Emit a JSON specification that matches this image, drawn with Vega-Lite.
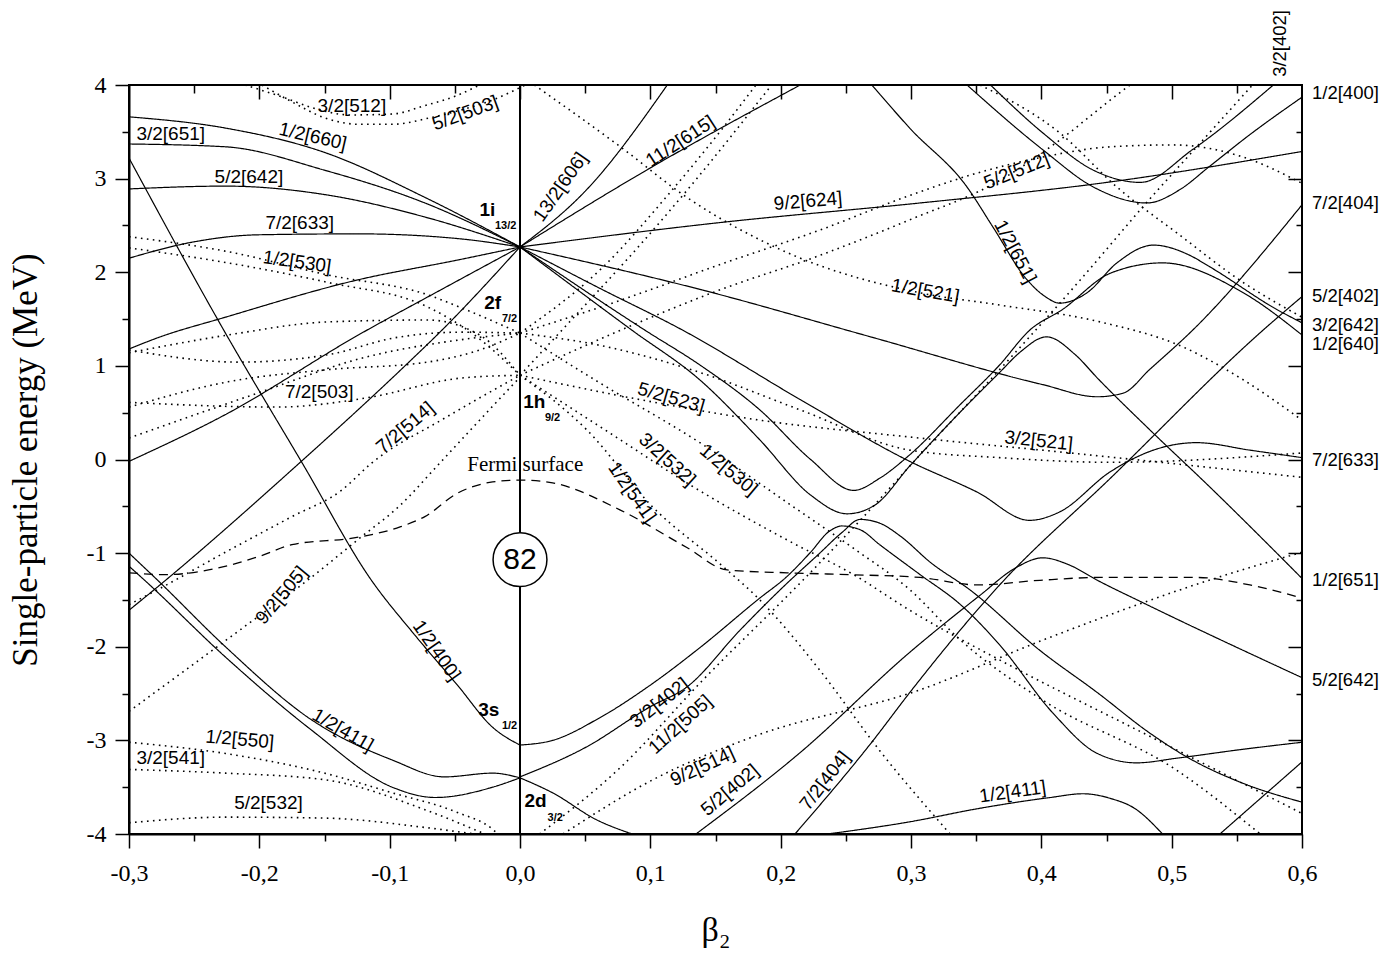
{
  "$schema": "https://vega.github.io/schema/vega-lite/v6.json",
  "width": 1173,
  "height": 749,
  "autosize": {"type": "none"},
  "padding": {"left": 129, "top": 85, "right": 84, "bottom": 119},
  "background": "white",
  "config": {
    "view": {"stroke": "black", "strokeWidth": 2},
    "axis": {"grid": false, "domainColor": "black", "tickColor": "black", "labelColor": "black", "titleColor": "black", "labelFlush": false}
  },
  "resolve": {"axis": {"x": "independent", "y": "independent"}},
  "datasets": {
    "levels": [
      {"curve":"o660","parity":"+","beta":-0.3,"energy":3.66},{"curve":"o660","parity":"+","beta":-0.226,"energy":3.54},{"curve":"o660","parity":"+","beta":-0.15,"energy":3.28},{"curve":"o660","parity":"+","beta":-0.073,"energy":2.8},{"curve":"o660","parity":"+","beta":0,"energy":2.27},
      {"curve":"o651","parity":"+","beta":-0.3,"energy":3.37},{"curve":"o651","parity":"+","beta":-0.226,"energy":3.34},{"curve":"o651","parity":"+","beta":-0.15,"energy":3.09},{"curve":"o651","parity":"+","beta":-0.073,"energy":2.74},{"curve":"o651","parity":"+","beta":0,"energy":2.27},
      {"curve":"o642","parity":"+","beta":-0.3,"energy":2.89},{"curve":"o642","parity":"+","beta":-0.226,"energy":2.92},{"curve":"o642","parity":"+","beta":-0.15,"energy":2.83},{"curve":"o642","parity":"+","beta":-0.073,"energy":2.59},{"curve":"o642","parity":"+","beta":0,"energy":2.27},
      {"curve":"o633","parity":"+","beta":-0.3,"energy":2.15},{"curve":"o633","parity":"+","beta":-0.252,"energy":2.32},{"curve":"o633","parity":"+","beta":-0.201,"energy":2.4},{"curve":"o633","parity":"+","beta":-0.124,"energy":2.41},{"curve":"o633","parity":"+","beta":-0.048,"energy":2.36},{"curve":"o633","parity":"+","beta":0,"energy":2.27},
      {"curve":"o624","parity":"+","beta":-0.3,"energy":1.18},{"curve":"o624","parity":"+","beta":-0.278,"energy":1.3},{"curve":"o624","parity":"+","beta":-0.226,"energy":1.52},{"curve":"o624","parity":"+","beta":-0.124,"energy":1.92},{"curve":"o624","parity":"+","beta":-0.048,"energy":2.13},{"curve":"o624","parity":"+","beta":0,"energy":2.27},
      {"curve":"o615","parity":"+","beta":-0.3,"energy":-0.02},{"curve":"o615","parity":"+","beta":-0.226,"energy":0.48},{"curve":"o615","parity":"+","beta":-0.124,"energy":1.33},{"curve":"o615","parity":"+","beta":-0.061,"energy":1.81},{"curve":"o615","parity":"+","beta":0,"energy":2.27},
      {"curve":"o606","parity":"+","beta":-0.3,"energy":-1.61},{"curve":"o606","parity":"+","beta":-0.278,"energy":-1.36},{"curve":"o606","parity":"+","beta":-0.175,"energy":-0.11},{"curve":"o606","parity":"+","beta":-0.086,"energy":1.03},{"curve":"o606","parity":"+","beta":-0.06,"energy":1.38},{"curve":"o606","parity":"+","beta":0,"energy":2.27},
      {"curve":"o400","parity":"+","beta":-0.3,"energy":3.22},{"curve":"o400","parity":"+","beta":-0.226,"energy":1.35},{"curve":"o400","parity":"+","beta":-0.167,"energy":-0.04},{"curve":"o400","parity":"+","beta":-0.114,"energy":-1.29},{"curve":"o400","parity":"+","beta":-0.081,"energy":-1.87},{"curve":"o400","parity":"+","beta":-0.048,"energy":-2.41},{"curve":"o400","parity":"+","beta":-0.021,"energy":-2.86},{"curve":"o400","parity":"+","beta":0,"energy":-3.05},
      {"curve":"o411","parity":"+","beta":-0.3,"energy":-1.0},{"curve":"o411","parity":"+","beta":-0.278,"energy":-1.29},{"curve":"o411","parity":"+","beta":-0.226,"energy":-2.0},{"curve":"o411","parity":"+","beta":-0.16,"energy":-2.78},{"curve":"o411","parity":"+","beta":-0.098,"energy":-3.21},{"curve":"o411","parity":"+","beta":-0.058,"energy":-3.39},{"curve":"o411","parity":"+","beta":-0.021,"energy":-3.35},{"curve":"o411","parity":"+","beta":0,"energy":-3.4},
      {"curve":"o402","parity":"+","beta":-0.3,"energy":-1.14},{"curve":"o402","parity":"+","beta":-0.288,"energy":-1.29},{"curve":"o402","parity":"+","beta":-0.226,"energy":-2.11},{"curve":"o402","parity":"+","beta":-0.16,"energy":-2.89},{"curve":"o402","parity":"+","beta":-0.098,"energy":-3.5},{"curve":"o402","parity":"+","beta":-0.065,"energy":-3.61},{"curve":"o402","parity":"+","beta":-0.021,"energy":-3.5},{"curve":"o402","parity":"+","beta":0,"energy":-3.4},
      {"curve":"p606","parity":"+","beta":0,"energy":2.27},{"curve":"p606","parity":"+","beta":0.051,"energy":2.88},{"curve":"p606","parity":"+","beta":0.113,"energy":4.0},
      {"curve":"p615","parity":"+","beta":0,"energy":2.27},{"curve":"p615","parity":"+","beta":0.097,"energy":3.09},{"curve":"p615","parity":"+","beta":0.215,"energy":4.0},
      {"curve":"p624","parity":"+","beta":0,"energy":2.27},{"curve":"p624","parity":"+","beta":0.153,"energy":2.53},{"curve":"p624","parity":"+","beta":0.307,"energy":2.74},{"curve":"p624","parity":"+","beta":0.445,"energy":2.95},{"curve":"p624","parity":"+","beta":0.6,"energy":3.29},
      {"curve":"p633","parity":"+","beta":0,"energy":2.27},{"curve":"p633","parity":"+","beta":0.14,"energy":1.81},{"curve":"p633","parity":"+","beta":0.269,"energy":1.31},{"curve":"p633","parity":"+","beta":0.401,"energy":0.8},{"curve":"p633","parity":"+","beta":0.443,"energy":0.67},{"curve":"p633","parity":"+","beta":0.463,"energy":0.71},{"curve":"p633","parity":"+","beta":0.483,"energy":0.96},{"curve":"p633","parity":"+","beta":0.516,"energy":1.38},{"curve":"p633","parity":"+","beta":0.6,"energy":2.72},
      {"curve":"p642","parity":"+","beta":0,"energy":2.27},{"curve":"p642","parity":"+","beta":0.061,"energy":1.83},{"curve":"p642","parity":"+","beta":0.125,"energy":1.38},{"curve":"p642","parity":"+","beta":0.215,"energy":0.64},{"curve":"p642","parity":"+","beta":0.299,"energy":-0.02},{"curve":"p642","parity":"+","beta":0.351,"energy":-0.35},{"curve":"p642","parity":"+","beta":0.391,"energy":-0.65},{"curve":"p642","parity":"+","beta":0.414,"energy":-0.56},{"curve":"p642","parity":"+","beta":0.453,"energy":-0.13},{"curve":"p642","parity":"+","beta":0.493,"energy":0.13},{"curve":"p642","parity":"+","beta":0.519,"energy":0.18},{"curve":"p642","parity":"+","beta":0.56,"energy":0.1},{"curve":"p642","parity":"+","beta":0.6,"energy":0.02},
      {"curve":"p651","parity":"+","beta":0,"energy":2.27},{"curve":"p651","parity":"+","beta":0.096,"energy":1.38},{"curve":"p651","parity":"+","beta":0.138,"energy":1.01},{"curve":"p651","parity":"+","beta":0.184,"energy":0.53},{"curve":"p651","parity":"+","beta":0.223,"energy":0.0},{"curve":"p651","parity":"+","beta":0.256,"energy":-0.33},{"curve":"p651","parity":"+","beta":0.276,"energy":-0.2},{"curve":"p651","parity":"+","beta":0.299,"energy":0.05},{"curve":"p651","parity":"+","beta":0.338,"energy":0.59},{"curve":"p651","parity":"+","beta":0.368,"energy":1.01},{"curve":"p651","parity":"+","beta":0.391,"energy":1.38},{"curve":"p651","parity":"+","beta":0.416,"energy":1.6},{"curve":"p651","parity":"+","beta":0.453,"energy":1.99},{"curve":"p651","parity":"+","beta":0.493,"energy":2.1},{"curve":"p651","parity":"+","beta":0.555,"energy":1.78},{"curve":"p651","parity":"+","beta":0.6,"energy":1.33},
      {"curve":"p660","parity":"+","beta":0,"energy":2.27},{"curve":"p660","parity":"+","beta":0.086,"energy":1.38},{"curve":"p660","parity":"+","beta":0.138,"energy":0.85},{"curve":"p660","parity":"+","beta":0.184,"energy":0.21},{"curve":"p660","parity":"+","beta":0.223,"energy":-0.38},{"curve":"p660","parity":"+","beta":0.251,"energy":-0.58},{"curve":"p660","parity":"+","beta":0.272,"energy":-0.49},{"curve":"p660","parity":"+","beta":0.299,"energy":-0.07},{"curve":"p660","parity":"+","beta":0.338,"energy":0.51},{"curve":"p660","parity":"+","beta":0.368,"energy":0.93},{"curve":"p660","parity":"+","beta":0.384,"energy":1.15},{"curve":"p660","parity":"+","beta":0.404,"energy":1.31},{"curve":"p660","parity":"+","beta":0.426,"energy":1.12},{"curve":"p660","parity":"+","beta":0.443,"energy":0.87},{"curve":"p660","parity":"+","beta":0.483,"energy":0.32},{"curve":"p660","parity":"+","beta":0.529,"energy":-0.29},{"curve":"p660","parity":"+","beta":0.6,"energy":-1.27},
      {"curve":"t651","parity":"+","beta":0.27,"energy":4.0},{"curve":"t651","parity":"+","beta":0.299,"energy":3.54},{"curve":"t651","parity":"+","beta":0.343,"energy":2.91},{"curve":"t651","parity":"+","beta":0.363,"energy":2.48},{"curve":"t651","parity":"+","beta":0.389,"energy":1.92},{"curve":"t651","parity":"+","beta":0.403,"energy":1.74},{"curve":"t651","parity":"+","beta":0.414,"energy":1.67},{"curve":"t651","parity":"+","beta":0.435,"energy":1.78},{"curve":"t651","parity":"+","beta":0.458,"energy":2.1},{"curve":"t651","parity":"+","beta":0.486,"energy":2.29},{"curve":"t651","parity":"+","beta":0.514,"energy":2.18},{"curve":"t651","parity":"+","beta":0.529,"energy":2.06},{"curve":"t651","parity":"+","beta":0.581,"energy":1.6},{"curve":"t651","parity":"+","beta":0.6,"energy":1.46},
      {"curve":"t400","parity":"+","beta":0.343,"energy":4.0},{"curve":"t400","parity":"+","beta":0.401,"energy":3.31},{"curve":"t400","parity":"+","beta":0.44,"energy":2.91},{"curve":"t400","parity":"+","beta":0.481,"energy":2.74},{"curve":"t400","parity":"+","beta":0.506,"energy":2.88},{"curve":"t400","parity":"+","beta":0.529,"energy":3.13},{"curve":"t400","parity":"+","beta":0.56,"energy":3.47},{"curve":"t400","parity":"+","beta":0.6,"energy":3.87},
      {"curve":"t402","parity":"+","beta":0.361,"energy":4.0},{"curve":"t402","parity":"+","beta":0.401,"energy":3.49},{"curve":"t402","parity":"+","beta":0.44,"energy":3.09},{"curve":"t402","parity":"+","beta":0.476,"energy":2.96},{"curve":"t402","parity":"+","beta":0.516,"energy":3.31},{"curve":"t402","parity":"+","beta":0.578,"energy":4.0},
      {"curve":"s404","parity":"+","beta":0.211,"energy":-4.0},{"curve":"s404","parity":"+","beta":0.271,"energy":-3.0},{"curve":"s404","parity":"+","beta":0.299,"energy":-2.49},{"curve":"s404","parity":"+","beta":0.368,"energy":-1.34},{"curve":"s404","parity":"+","beta":0.453,"energy":-0.2},{"curve":"s404","parity":"+","beta":0.57,"energy":1.38},{"curve":"s404","parity":"+","beta":0.6,"energy":1.74},
      {"curve":"c402","parity":"+","beta":0.135,"energy":-4.0},{"curve":"c402","parity":"+","beta":0.215,"energy":-3.13},{"curve":"c402","parity":"+","beta":0.299,"energy":-2.06},{"curve":"c402","parity":"+","beta":0.353,"energy":-1.45},{"curve":"c402","parity":"+","beta":0.38,"energy":-1.16},{"curve":"c402","parity":"+","beta":0.401,"energy":-1.05},{"curve":"c402","parity":"+","beta":0.422,"energy":-1.13},{"curve":"c402","parity":"+","beta":0.443,"energy":-1.29},{"curve":"c402","parity":"+","beta":0.478,"energy":-1.53},{"curve":"c402","parity":"+","beta":0.6,"energy":-2.33},
      {"curve":"q400","parity":"+","beta":0,"energy":-3.05},{"curve":"q400","parity":"+","beta":0.025,"energy":-3.0},{"curve":"q400","parity":"+","beta":0.061,"energy":-2.76},{"curve":"q400","parity":"+","beta":0.102,"energy":-2.39},{"curve":"q400","parity":"+","beta":0.138,"energy":-2.01},{"curve":"q400","parity":"+","beta":0.184,"energy":-1.48},{"curve":"q400","parity":"+","beta":0.204,"energy":-1.26},{"curve":"q400","parity":"+","beta":0.223,"energy":-0.99},{"curve":"q400","parity":"+","beta":0.237,"energy":-0.77},{"curve":"q400","parity":"+","beta":0.247,"energy":-0.71},{"curve":"q400","parity":"+","beta":0.261,"energy":-0.75},{"curve":"q400","parity":"+","beta":0.276,"energy":-0.91},{"curve":"q400","parity":"+","beta":0.307,"energy":-1.23},{"curve":"q400","parity":"+","beta":0.338,"energy":-1.55},{"curve":"q400","parity":"+","beta":0.368,"energy":-1.98},{"curve":"q400","parity":"+","beta":0.409,"energy":-2.71},{"curve":"q400","parity":"+","beta":0.443,"energy":-3.14},{"curve":"q400","parity":"+","beta":0.473,"energy":-3.24},{"curve":"q400","parity":"+","beta":0.504,"energy":-3.19},{"curve":"q400","parity":"+","beta":0.552,"energy":-3.1},{"curve":"q400","parity":"+","beta":0.6,"energy":-3.02},
      {"curve":"q402","parity":"+","beta":0,"energy":-3.39},{"curve":"q402","parity":"+","beta":0.051,"energy":-3.07},{"curve":"q402","parity":"+","beta":0.1,"energy":-2.64},{"curve":"q402","parity":"+","beta":0.128,"energy":-2.43},{"curve":"q402","parity":"+","beta":0.169,"energy":-1.82},{"curve":"q402","parity":"+","beta":0.202,"energy":-1.36},{"curve":"q402","parity":"+","beta":0.23,"energy":-1.0},{"curve":"q402","parity":"+","beta":0.247,"energy":-0.78},{"curve":"q402","parity":"+","beta":0.261,"energy":-0.64},{"curve":"q402","parity":"+","beta":0.276,"energy":-0.68},{"curve":"q402","parity":"+","beta":0.292,"energy":-0.82},{"curve":"q402","parity":"+","beta":0.315,"energy":-1.1},{"curve":"q402","parity":"+","beta":0.345,"energy":-1.39},{"curve":"q402","parity":"+","beta":0.399,"energy":-2.04},{"curve":"q402","parity":"+","beta":0.443,"energy":-2.49},{"curve":"q402","parity":"+","beta":0.483,"energy":-2.92},{"curve":"q402","parity":"+","beta":0.512,"energy":-3.18},{"curve":"q402","parity":"+","beta":0.555,"energy":-3.46},{"curve":"q402","parity":"+","beta":0.6,"energy":-3.66},
      {"curve":"d411","parity":"+","beta":0,"energy":-3.4},{"curve":"d411","parity":"+","beta":0.025,"energy":-3.56},{"curve":"d411","parity":"+","beta":0.059,"energy":-3.85},{"curve":"d411","parity":"+","beta":0.086,"energy":-4.0},
      {"curve":"b411","parity":"+","beta":0.236,"energy":-4.0},{"curve":"b411","parity":"+","beta":0.299,"energy":-3.87},{"curve":"b411","parity":"+","beta":0.351,"energy":-3.73},{"curve":"b411","parity":"+","beta":0.407,"energy":-3.61},{"curve":"b411","parity":"+","beta":0.432,"energy":-3.57},{"curve":"b411","parity":"+","beta":0.453,"energy":-3.62},{"curve":"b411","parity":"+","beta":0.472,"energy":-3.73},{"curve":"b411","parity":"+","beta":0.493,"energy":-4.0},
      {"curve":"g420","parity":"+","beta":0.537,"energy":-4.0},{"curve":"g420","parity":"+","beta":0.6,"energy":-3.23},
      {"curve":"n512","parity":"-","beta":-0.211,"energy":4.0},{"curve":"n512","parity":"-","beta":-0.18,"energy":3.86},{"curve":"n512","parity":"-","beta":-0.16,"energy":3.76},{"curve":"n512","parity":"-","beta":-0.13,"energy":3.68},{"curve":"n512","parity":"-","beta":-0.098,"energy":3.69},{"curve":"n512","parity":"-","beta":-0.073,"energy":3.78},{"curve":"n512","parity":"-","beta":-0.048,"energy":3.89},{"curve":"n512","parity":"-","beta":-0.031,"energy":4.0},
      {"curve":"n503","parity":"-","beta":-0.198,"energy":4.0},{"curve":"n503","parity":"-","beta":-0.175,"energy":3.82},{"curve":"n503","parity":"-","beta":-0.15,"energy":3.65},{"curve":"n503","parity":"-","beta":-0.123,"energy":3.58},{"curve":"n503","parity":"-","beta":-0.098,"energy":3.58},{"curve":"n503","parity":"-","beta":-0.069,"energy":3.65},{"curve":"n503","parity":"-","beta":-0.046,"energy":3.73},{"curve":"n503","parity":"-","beta":-0.021,"energy":3.84},{"curve":"n503","parity":"-","beta":0.004,"energy":4.0},
      {"curve":"od1","parity":"-","beta":-0.3,"energy":2.38},{"curve":"od1","parity":"-","beta":-0.224,"energy":2.22},{"curve":"od1","parity":"-","beta":-0.147,"energy":1.97},{"curve":"od1","parity":"-","beta":-0.071,"energy":1.76},{"curve":"od1","parity":"-","beta":-0.045,"energy":1.62},{"curve":"od1","parity":"-","beta":0,"energy":1.35},
      {"curve":"od2","parity":"-","beta":-0.3,"energy":2.26},{"curve":"od2","parity":"-","beta":-0.224,"energy":2.1},{"curve":"od2","parity":"-","beta":-0.147,"energy":1.89},{"curve":"od2","parity":"-","beta":-0.071,"energy":1.63},{"curve":"od2","parity":"-","beta":-0.035,"energy":1.33},{"curve":"od2","parity":"-","beta":0,"energy":0.9},
      {"curve":"od3","parity":"-","beta":-0.3,"energy":1.17},{"curve":"od3","parity":"-","beta":-0.216,"energy":1.04},{"curve":"od3","parity":"-","beta":-0.147,"energy":1.12},{"curve":"od3","parity":"-","beta":-0.096,"energy":1.3},{"curve":"od3","parity":"-","beta":-0.045,"energy":1.36},{"curve":"od3","parity":"-","beta":0,"energy":1.35},
      {"curve":"od4","parity":"-","beta":-0.3,"energy":1.14},{"curve":"od4","parity":"-","beta":-0.224,"energy":1.33},{"curve":"od4","parity":"-","beta":-0.147,"energy":1.47},{"curve":"od4","parity":"-","beta":-0.071,"energy":1.49},{"curve":"od4","parity":"-","beta":-0.031,"energy":1.33},{"curve":"od4","parity":"-","beta":0,"energy":0.9},
      {"curve":"od5","parity":"-","beta":-0.3,"energy":0.61},{"curve":"od5","parity":"-","beta":-0.186,"energy":0.56},{"curve":"od5","parity":"-","beta":-0.117,"energy":0.66},{"curve":"od5","parity":"-","beta":-0.045,"energy":0.87},{"curve":"od5","parity":"-","beta":0,"energy":0.9},
      {"curve":"od6","parity":"-","beta":-0.3,"energy":0.56},{"curve":"od6","parity":"-","beta":-0.224,"energy":0.83},{"curve":"od6","parity":"-","beta":-0.147,"energy":0.96},{"curve":"od6","parity":"-","beta":-0.071,"energy":1.04},{"curve":"od6","parity":"-","beta":-0.031,"energy":1.17},{"curve":"od6","parity":"-","beta":0,"energy":1.35},
      {"curve":"od7","parity":"-","beta":-0.3,"energy":0.23},{"curve":"od7","parity":"-","beta":-0.199,"energy":0.72},{"curve":"od7","parity":"-","beta":-0.122,"energy":1.08},{"curve":"od7","parity":"-","beta":-0.045,"energy":1.28},{"curve":"od7","parity":"-","beta":0,"energy":1.35},
      {"curve":"od514","parity":"-","beta":-0.3,"energy":-1.55},{"curve":"od514","parity":"-","beta":-0.278,"energy":-1.39},{"curve":"od514","parity":"-","beta":-0.226,"energy":-0.99},{"curve":"od514","parity":"-","beta":-0.175,"energy":-0.61},{"curve":"od514","parity":"-","beta":-0.137,"energy":-0.33},{"curve":"od514","parity":"-","beta":-0.114,"energy":-0.04},{"curve":"od514","parity":"-","beta":-0.058,"energy":0.44},{"curve":"od514","parity":"-","beta":0,"energy":0.9},
      {"curve":"od505","parity":"-","beta":-0.3,"energy":-2.69},{"curve":"od505","parity":"-","beta":-0.246,"energy":-2.14},{"curve":"od505","parity":"-","beta":-0.207,"energy":-1.74},{"curve":"od505","parity":"-","beta":-0.163,"energy":-1.29},{"curve":"od505","parity":"-","beta":-0.123,"energy":-0.84},{"curve":"od505","parity":"-","beta":-0.092,"energy":-0.49},{"curve":"od505","parity":"-","beta":-0.063,"energy":-0.06},{"curve":"od505","parity":"-","beta":-0.031,"energy":0.42},{"curve":"od505","parity":"-","beta":0,"energy":0.88},
      {"curve":"od550","parity":"-","beta":-0.3,"energy":-3.02},{"curve":"od550","parity":"-","beta":-0.226,"energy":-3.14},{"curve":"od550","parity":"-","beta":-0.15,"energy":-3.35},{"curve":"od550","parity":"-","beta":-0.098,"energy":-3.56},{"curve":"od550","parity":"-","beta":-0.048,"energy":-3.77},{"curve":"od550","parity":"-","beta":-0.021,"energy":-3.95},{"curve":"od550","parity":"-","beta":-0.017,"energy":-4.0},
      {"curve":"od541","parity":"-","beta":-0.3,"energy":-3.31},{"curve":"od541","parity":"-","beta":-0.226,"energy":-3.35},{"curve":"od541","parity":"-","beta":-0.15,"energy":-3.42},{"curve":"od541","parity":"-","beta":-0.073,"energy":-3.74},{"curve":"od541","parity":"-","beta":-0.027,"energy":-4.0},
      {"curve":"od532","parity":"-","beta":-0.3,"energy":-3.88},{"curve":"od532","parity":"-","beta":-0.226,"energy":-3.82},{"curve":"od532","parity":"-","beta":-0.15,"energy":-3.83},{"curve":"od532","parity":"-","beta":-0.073,"energy":-3.93},{"curve":"od532","parity":"-","beta":-0.035,"energy":-4.0},
      {"curve":"pd541","parity":"-","beta":0,"energy":0.9},{"curve":"pd541","parity":"-","beta":0.051,"energy":0.32},{"curve":"pd541","parity":"-","beta":0.102,"energy":-0.51},{"curve":"pd541","parity":"-","beta":0.153,"energy":-1.11},{"curve":"pd541","parity":"-","beta":0.184,"energy":-1.5},{"curve":"pd541","parity":"-","beta":0.23,"energy":-2.25},{"curve":"pd541","parity":"-","beta":0.276,"energy":-3.11},{"curve":"pd541","parity":"-","beta":0.33,"energy":-4.0},
      {"curve":"pd532","parity":"-","beta":0,"energy":0.9},{"curve":"pd532","parity":"-","beta":0.077,"energy":0.21},{"curve":"pd532","parity":"-","beta":0.128,"energy":-0.25},{"curve":"pd532","parity":"-","beta":0.205,"energy":-0.86},{"curve":"pd532","parity":"-","beta":0.256,"energy":-1.23},{"curve":"pd532","parity":"-","beta":0.299,"energy":-1.61},{"curve":"pd532","parity":"-","beta":0.376,"energy":-2.2},{"curve":"pd532","parity":"-","beta":0.478,"energy":-2.92},{"curve":"pd532","parity":"-","beta":0.6,"energy":-3.78},
      {"curve":"pd530","parity":"-","beta":0,"energy":1.35},{"curve":"pd530","parity":"-","beta":0.061,"energy":0.82},{"curve":"pd530","parity":"-","beta":0.138,"energy":0.18},{"curve":"pd530","parity":"-","beta":0.205,"energy":-0.46},{"curve":"pd530","parity":"-","beta":0.256,"energy":-0.95},{"curve":"pd530","parity":"-","beta":0.299,"energy":-1.39},{"curve":"pd530","parity":"-","beta":0.338,"energy":-1.93},{"curve":"pd530","parity":"-","beta":0.401,"energy":-2.57},{"curve":"pd530","parity":"-","beta":0.504,"energy":-3.32},{"curve":"pd530","parity":"-","beta":0.568,"energy":-4.0},
      {"curve":"pd523","parity":"-","beta":0,"energy":0.9},{"curve":"pd523","parity":"-","beta":0.092,"energy":0.64},{"curve":"pd523","parity":"-","beta":0.184,"energy":0.42},{"curve":"pd523","parity":"-","beta":0.299,"energy":0.24},{"curve":"pd523","parity":"-","beta":0.422,"energy":0.07},{"curve":"pd523","parity":"-","beta":0.6,"energy":-0.19},
      {"curve":"pd521","parity":"-","beta":0,"energy":1.35},{"curve":"pd521","parity":"-","beta":0.061,"energy":1.22},{"curve":"pd521","parity":"-","beta":0.138,"energy":0.93},{"curve":"pd521","parity":"-","beta":0.215,"energy":0.53},{"curve":"pd521","parity":"-","beta":0.299,"energy":0.1},{"curve":"pd521","parity":"-","beta":0.368,"energy":0.02},{"curve":"pd521","parity":"-","beta":0.453,"energy":-0.03},{"curve":"pd521","parity":"-","beta":0.6,"energy":0.07},
      {"curve":"pd512","parity":"-","beta":0,"energy":1.35},{"curve":"pd512","parity":"-","beta":0.077,"energy":1.7},{"curve":"pd512","parity":"-","beta":0.153,"energy":2.08},{"curve":"pd512","parity":"-","beta":0.23,"energy":2.45},{"curve":"pd512","parity":"-","beta":0.299,"energy":2.82},{"curve":"pd512","parity":"-","beta":0.351,"energy":3.06},{"curve":"pd512","parity":"-","beta":0.401,"energy":3.23},{"curve":"pd512","parity":"-","beta":0.453,"energy":3.34},{"curve":"pd512","parity":"-","beta":0.501,"energy":3.36},{"curve":"pd512","parity":"-","beta":0.555,"energy":3.23},{"curve":"pd512","parity":"-","beta":0.6,"energy":2.95},
      {"curve":"pd503","parity":"-","beta":0,"energy":1.35},{"curve":"pd503","parity":"-","beta":0.064,"energy":2.06},{"curve":"pd503","parity":"-","beta":0.115,"energy":2.85},{"curve":"pd503","parity":"-","beta":0.159,"energy":3.6},{"curve":"pd503","parity":"-","beta":0.181,"energy":4.0},
      {"curve":"pd505","parity":"-","beta":0,"energy":0.9},{"curve":"pd505","parity":"-","beta":0.046,"energy":1.59},{"curve":"pd505","parity":"-","beta":0.092,"energy":2.29},{"curve":"pd505","parity":"-","beta":0.138,"energy":3.04},{"curve":"pd505","parity":"-","beta":0.184,"energy":3.84},{"curve":"pd505","parity":"-","beta":0.193,"energy":4.0},
      {"curve":"pd514","parity":"-","beta":0,"energy":0.9},{"curve":"pd514","parity":"-","beta":0.077,"energy":1.38},{"curve":"pd514","parity":"-","beta":0.153,"energy":1.81},{"curve":"pd514","parity":"-","beta":0.23,"energy":2.18},{"curve":"pd514","parity":"-","beta":0.299,"energy":2.56},{"curve":"pd514","parity":"-","beta":0.368,"energy":2.98},{"curve":"pd514","parity":"-","beta":0.414,"energy":3.41},{"curve":"pd514","parity":"-","beta":0.453,"energy":3.84},{"curve":"pd514","parity":"-","beta":0.468,"energy":4.0},
      {"curve":"pd521t","parity":"-","beta":0.011,"energy":4.0},{"curve":"pd521t","parity":"-","beta":0.077,"energy":3.34},{"curve":"pd521t","parity":"-","beta":0.128,"energy":2.8},{"curve":"pd521t","parity":"-","beta":0.205,"energy":2.21},{"curve":"pd521t","parity":"-","beta":0.307,"energy":1.78},{"curve":"pd521t","parity":"-","beta":0.368,"energy":1.65},{"curve":"pd521t","parity":"-","beta":0.445,"energy":1.47},{"curve":"pd521t","parity":"-","beta":0.509,"energy":1.2},{"curve":"pd521t","parity":"-","beta":0.555,"energy":0.85},{"curve":"pd521t","parity":"-","beta":0.6,"energy":0.42},
      {"curve":"ur1","parity":"-","beta":0.353,"energy":4.0},{"curve":"ur1","parity":"-","beta":0.414,"energy":3.49},{"curve":"ur1","parity":"-","beta":0.458,"energy":2.91},{"curve":"ur1","parity":"-","beta":0.504,"energy":2.42},{"curve":"ur1","parity":"-","beta":0.555,"energy":1.89},{"curve":"ur1","parity":"-","beta":0.6,"energy":1.52},
      {"curve":"pd11505","parity":"-","beta":0.015,"energy":-4.0},{"curve":"pd11505","parity":"-","beta":0.077,"energy":-3.29},{"curve":"pd11505","parity":"-","beta":0.14,"energy":-2.36},{"curve":"pd11505","parity":"-","beta":0.217,"energy":-1.29},{"curve":"pd11505","parity":"-","beta":0.261,"energy":-0.65},{"curve":"pd11505","parity":"-","beta":0.307,"energy":0.05},{"curve":"pd11505","parity":"-","beta":0.368,"energy":0.96},{"curve":"pd11505","parity":"-","beta":0.389,"energy":1.28},{"curve":"pd11505","parity":"-","beta":0.43,"energy":1.92},{"curve":"pd11505","parity":"-","beta":0.478,"energy":2.7},{"curve":"pd11505","parity":"-","beta":0.529,"energy":3.49},{"curve":"pd11505","parity":"-","beta":0.562,"energy":4.0},
      {"curve":"pd9514","parity":"-","beta":0.033,"energy":-4.0},{"curve":"pd9514","parity":"-","beta":0.102,"energy":-3.42},{"curve":"pd9514","parity":"-","beta":0.179,"energy":-2.96},{"curve":"pd9514","parity":"-","beta":0.307,"energy":-2.46},{"curve":"pd9514","parity":"-","beta":0.401,"energy":-1.93},{"curve":"pd9514","parity":"-","beta":0.522,"energy":-1.32},{"curve":"pd9514","parity":"-","beta":0.6,"energy":-0.99}
    ],
    "fermi": [
      {"beta":-0.3,"energy":-1.21},{"beta":-0.272,"energy":-1.23},{"beta":-0.239,"energy":-1.18},{"beta":-0.199,"energy":-1.03},{"beta":-0.175,"energy":-0.91},{"beta":-0.124,"energy":-0.83},{"beta":-0.092,"energy":-0.72},{"beta":-0.073,"energy":-0.61},{"beta":-0.048,"energy":-0.36},{"beta":-0.021,"energy":-0.24},{"beta":0,"energy":-0.22},{"beta":0.025,"energy":-0.25},{"beta":0.077,"energy":-0.54},{"beta":0.128,"energy":-0.94},{"beta":0.159,"energy":-1.18},{"beta":0.205,"energy":-1.21},{"beta":0.253,"energy":-1.23},{"beta":0.307,"energy":-1.26},{"beta":0.351,"energy":-1.34},{"beta":0.399,"energy":-1.29},{"beta":0.445,"energy":-1.26},{"beta":0.519,"energy":-1.26},{"beta":0.56,"energy":-1.34},{"beta":0.6,"energy":-1.48}
    ],
    "labels": [
      {"id":"l1","text":"3/2[512]","beta":-0.129,"energy":3.78},
      {"id":"l2","text":"5/2[503]","beta":-0.042,"energy":3.7},
      {"id":"l3","text":"3/2[651]","beta":-0.268,"energy":3.48},
      {"id":"l4","text":"1/2[660]","beta":-0.159,"energy":3.45},
      {"id":"l5","text":"5/2[642]","beta":-0.208,"energy":3.02},
      {"id":"l6","text":"7/2[633]","beta":-0.169,"energy":2.53},
      {"id":"l7","text":"1/2[530]","beta":-0.171,"energy":2.11},
      {"id":"l8","text":"7/2[503]","beta":-0.154,"energy":0.72},
      {"id":"l9","text":"7/2[514]","beta":-0.088,"energy":0.34},
      {"id":"l10","text":"9/2[505]","beta":-0.183,"energy":-1.45},
      {"id":"l11","text":"1/2[400]","beta":-0.064,"energy":-2.04},
      {"id":"l12","text":"1/2[411]","beta":-0.136,"energy":-2.89},
      {"id":"l13","text":"1/2[550]","beta":-0.215,"energy":-2.99},
      {"id":"l14","text":"3/2[541]","beta":-0.268,"energy":-3.19},
      {"id":"l15","text":"5/2[532]","beta":-0.193,"energy":-3.67},
      {"id":"l16","text":"13/2[606]","beta":0.031,"energy":2.91},
      {"id":"l17","text":"11/2[615]","beta":0.123,"energy":3.4},
      {"id":"l18","text":"9/2[624]","beta":0.221,"energy":2.76},
      {"id":"l19","text":"5/2[512]","beta":0.381,"energy":3.08},
      {"id":"l20","text":"1/2[651]","beta":0.38,"energy":2.22},
      {"id":"l21","text":"1/2[521]","beta":0.311,"energy":1.8},
      {"id":"l22","text":"5/2[523]","beta":0.116,"energy":0.66},
      {"id":"l23","text":"3/2[521]","beta":0.398,"energy":0.2},
      {"id":"l24","text":"3/2[532]","beta":0.113,"energy":0.0},
      {"id":"l25","text":"1/2[530]","beta":0.16,"energy":-0.11},
      {"id":"l26","text":"1/2[541]","beta":0.086,"energy":-0.35},
      {"id":"l27","text":"3/2[402]","beta":0.107,"energy":-2.6},
      {"id":"l28","text":"11/2[505]","beta":0.123,"energy":-2.83},
      {"id":"l29","text":"9/2[514]","beta":0.14,"energy":-3.28},
      {"id":"l30","text":"5/2[402]","beta":0.161,"energy":-3.53},
      {"id":"l31","text":"7/2[404]","beta":0.234,"energy":-3.43},
      {"id":"l32","text":"1/2[411]","beta":0.378,"energy":-3.55}
    ],
    "edgeLabels": [
      {"text":"1/2[400]","beta":0.6,"energy":3.91},
      {"text":"7/2[404]","beta":0.6,"energy":2.74},
      {"text":"5/2[402]","beta":0.6,"energy":1.75},
      {"text":"3/2[642]","beta":0.6,"energy":1.44},
      {"text":"1/2[640]","beta":0.6,"energy":1.23},
      {"text":"7/2[633]","beta":0.6,"energy":-0.01},
      {"text":"1/2[651]","beta":0.6,"energy":-1.29},
      {"text":"5/2[642]","beta":0.6,"energy":-2.36}
    ],
    "shells": [
      {"text":"1i","beta":-0.025,"energy":2.67},
      {"text":"2f","beta":-0.021,"energy":1.67},
      {"text":"1h","beta":0.011,"energy":0.61},
      {"text":"3s","beta":-0.024,"energy":-2.68},
      {"text":"2d","beta":0.012,"energy":-3.65}
    ],
    "shellSubs": [
      {"text":"13/2","beta":-0.011,"energy":2.49},
      {"text":"7/2","beta":-0.008,"energy":1.5},
      {"text":"9/2","beta":0.025,"energy":0.44},
      {"text":"1/2","beta":-0.008,"energy":-2.85},
      {"text":"3/2","beta":0.027,"energy":-3.83}
    ]
  },
  "layer": [
    {
      "data": {"values": [{"beta": 0, "energy": 0}]},
      "mark": {"type": "point", "opacity": 0},
      "encoding": {
        "x": {"field": "beta", "type": "quantitative", "scale": {"domain": [-0.3, 0.6], "nice": false, "zero": false},
          "axis": {"orient": "bottom", "values": [-0.3, -0.2, -0.1, 0, 0.1, 0.2, 0.3, 0.4, 0.5, 0.6],
            "labelExpr": "(datum.value < 0 ? '-' : '') + replace(format(abs(datum.value), '.1f'), '.', ',')",
            "tickSize": 14, "tickWidth": 1.5, "domainWidth": 2, "labelFont": "Liberation Serif", "labelFontSize": 24, "labelPadding": 13,
            "title": "β₂", "titleFont": "Liberation Serif", "titleFontSize": 34, "titleFontWeight": "normal", "titlePadding": 28}},
        "y": {"field": "energy", "type": "quantitative", "scale": {"domain": [-4, 4], "nice": false, "zero": false},
          "axis": {"orient": "left", "values": [-4, -3, -2, -1, 0, 1, 2, 3, 4],
            "labelExpr": "(datum.value < 0 ? '-' : '') + abs(datum.value)",
            "tickSize": 14, "tickWidth": 1.5, "domainWidth": 2, "labelFont": "Liberation Serif", "labelFontSize": 24, "labelPadding": 9,
            "title": "Single-particle energy (MeV)", "titleFont": "Liberation Serif", "titleFontSize": 35, "titleFontWeight": "normal", "titlePadding": 43}}
      }
    },
    {
      "data": {"values": [{"beta": 0, "energy": 0}]},
      "mark": {"type": "point", "opacity": 0},
      "encoding": {
        "x": {"field": "beta", "type": "quantitative",
          "axis": {"orient": "bottom", "values": [-0.25, -0.15, -0.05, 0.05, 0.15, 0.25, 0.35, 0.45, 0.55], "tickSize": 7, "tickWidth": 1.5, "labels": false, "domain": false, "title": null}},
        "y": {"field": "energy", "type": "quantitative",
          "axis": {"orient": "left", "values": [-3.5, -2.5, -1.5, -0.5, 0.5, 1.5, 2.5, 3.5], "tickSize": 7, "tickWidth": 1.5, "labels": false, "domain": false, "title": null}}
      }
    },
    {
      "data": {"values": [{"beta": 0, "energy": 0}]},
      "mark": {"type": "point", "opacity": 0},
      "encoding": {
        "x": {"field": "beta", "type": "quantitative",
          "axis": {"orient": "top", "values": [-0.2, -0.1, 0, 0.1, 0.2, 0.3, 0.4, 0.5], "tickSize": -14, "tickWidth": 1.5, "labels": false, "domain": false, "title": null}},
        "y": {"field": "energy", "type": "quantitative",
          "axis": {"orient": "right", "values": [-3, -2, -1, 0, 1, 2, 3], "tickSize": -14, "tickWidth": 1.5, "labels": false, "domain": false, "title": null}}
      }
    },
    {
      "data": {"values": [{"beta": 0, "energy": 0}]},
      "mark": {"type": "point", "opacity": 0},
      "encoding": {
        "x": {"field": "beta", "type": "quantitative",
          "axis": {"orient": "top", "values": [-0.25, -0.15, -0.05, 0.05, 0.15, 0.25, 0.35, 0.45, 0.55], "tickSize": -8, "tickWidth": 1.5, "labels": false, "domain": false, "title": null}},
        "y": {"field": "energy", "type": "quantitative",
          "axis": {"orient": "right", "values": [-3.5, -2.5, -1.5, -0.5, 0.5, 1.5, 2.5, 3.5], "tickSize": -6, "tickWidth": 1.5, "labels": false, "domain": false, "title": null}}
      }
    },
    {
      "data": {"values": [{"beta": 0}]},
      "mark": {"type": "rule", "color": "black", "strokeWidth": 2},
      "encoding": {"x": {"field": "beta", "type": "quantitative", "axis": null}}
    },
    {
      "data": {"name": "levels"},
      "mark": {"type": "line", "interpolate": "monotone", "color": "black", "clip": true, "strokeCap": "butt"},
      "encoding": {
        "x": {"field": "beta", "type": "quantitative", "axis": null},
        "y": {"field": "energy", "type": "quantitative", "axis": null},
        "detail": {"field": "curve"},
        "strokeDash": {"field": "parity", "type": "nominal", "scale": {"domain": ["+", "-"], "range": [[1, 0], [1.6, 4.4]]}, "legend": null},
        "strokeWidth": {"field": "parity", "type": "nominal", "scale": {"domain": ["+", "-"], "range": [1.2, 1.6]}, "legend": null}
      }
    },
    {
      "data": {"name": "fermi"},
      "mark": {"type": "line", "interpolate": "monotone", "color": "black", "strokeDash": [9, 6], "strokeWidth": 1.3},
      "encoding": {
        "x": {"field": "beta", "type": "quantitative", "axis": null},
        "y": {"field": "energy", "type": "quantitative", "axis": null}
      }
    },
    {
      "data": {"values": [{"beta": 0, "energy": -1.07, "text": "82"}]},
      "mark": {"type": "point", "shape": "circle", "size": 2900, "filled": true, "fill": "white", "stroke": "black", "strokeWidth": 1.5, "opacity": 1},
      "encoding": {
        "x": {"field": "beta", "type": "quantitative", "axis": null},
        "y": {"field": "energy", "type": "quantitative", "axis": null}
      }
    },
    {
      "data": {"values": [{"beta": 0, "energy": -1.07, "text": "82"}]},
      "mark": {"type": "text", "font": "Liberation Sans", "fontSize": 30, "align": "center", "baseline": "middle", "color": "black"},
      "encoding": {
        "x": {"field": "beta", "type": "quantitative", "axis": null},
        "y": {"field": "energy", "type": "quantitative", "axis": null},
        "text": {"field": "text"}
      }
    },
    {
      "data": {"values": [{"beta": 0.004, "energy": -0.06, "text": "Fermi surface"}]},
      "mark": {"type": "text", "font": "Liberation Serif", "fontSize": 21, "align": "center", "baseline": "middle", "color": "black"},
      "encoding": {
        "x": {"field": "beta", "type": "quantitative", "axis": null},
        "y": {"field": "energy", "type": "quantitative", "axis": null},
        "text": {"field": "text"}
      }
    },
    {
      "data": {"name": "shells"},
      "mark": {"type": "text", "font": "Liberation Sans", "fontSize": 19, "fontWeight": "bold", "align": "center", "baseline": "middle", "color": "black"},
      "encoding": {"x": {"field": "beta", "type": "quantitative", "axis": null}, "y": {"field": "energy", "type": "quantitative", "axis": null}, "text": {"field": "text"}}
    },
    {
      "data": {"name": "shellSubs"},
      "mark": {"type": "text", "font": "Liberation Sans", "fontSize": 11, "fontWeight": "bold", "align": "center", "baseline": "middle", "color": "black"},
      "encoding": {"x": {"field": "beta", "type": "quantitative", "axis": null}, "y": {"field": "energy", "type": "quantitative", "axis": null}, "text": {"field": "text"}}
    },
    {
      "data": {"name": "edgeLabels"},
      "mark": {"type": "text", "font": "Liberation Sans", "fontSize": 18.5, "align": "left", "baseline": "middle", "dx": 10, "color": "black"},
      "encoding": {"x": {"field": "beta", "type": "quantitative", "axis": null}, "y": {"field": "energy", "type": "quantitative", "axis": null}, "text": {"field": "text"}}
    },
    {
      "data": {"values": [{"text": "3/2[402]", "beta": 0.5831, "energy": 4.087}]},
      "mark": {"type": "text", "font": "Liberation Sans", "fontSize": 18.5, "angle": 270, "align": "left", "baseline": "middle", "color": "black"},
      "encoding": {"x": {"field": "beta", "type": "quantitative", "axis": null}, "y": {"field": "energy", "type": "quantitative", "axis": null}, "text": {"field": "text"}}
    },
    {"data": {"name": "labels"}, "transform": [{"filter": {"field": "id", "oneOf": ["l1", "l3", "l5", "l6", "l8", "l14", "l15"]}}], "mark": {"type": "text", "angle": 0, "font": "Liberation Sans", "fontSize": 19, "align": "center", "baseline": "middle", "color": "black"}, "encoding": {"x": {"field": "beta", "type": "quantitative", "axis": null}, "y": {"field": "energy", "type": "quantitative", "axis": null}, "text": {"field": "text"}}},
    {"data": {"name": "labels"}, "transform": [{"filter": {"field": "id", "oneOf": ["l13"]}}], "mark": {"type": "text", "angle": 5, "font": "Liberation Sans", "fontSize": 19, "align": "center", "baseline": "middle", "color": "black"}, "encoding": {"x": {"field": "beta", "type": "quantitative", "axis": null}, "y": {"field": "energy", "type": "quantitative", "axis": null}, "text": {"field": "text"}}},
    {"data": {"name": "labels"}, "transform": [{"filter": {"field": "id", "oneOf": ["l23"]}}], "mark": {"type": "text", "angle": 6, "font": "Liberation Sans", "fontSize": 19, "align": "center", "baseline": "middle", "color": "black"}, "encoding": {"x": {"field": "beta", "type": "quantitative", "axis": null}, "y": {"field": "energy", "type": "quantitative", "axis": null}, "text": {"field": "text"}}},
    {"data": {"name": "labels"}, "transform": [{"filter": {"field": "id", "oneOf": ["l7"]}}], "mark": {"type": "text", "angle": 8, "font": "Liberation Sans", "fontSize": 19, "align": "center", "baseline": "middle", "color": "black"}, "encoding": {"x": {"field": "beta", "type": "quantitative", "axis": null}, "y": {"field": "energy", "type": "quantitative", "axis": null}, "text": {"field": "text"}}},
    {"data": {"name": "labels"}, "transform": [{"filter": {"field": "id", "oneOf": ["l21"]}}], "mark": {"type": "text", "angle": 10, "font": "Liberation Sans", "fontSize": 19, "align": "center", "baseline": "middle", "color": "black"}, "encoding": {"x": {"field": "beta", "type": "quantitative", "axis": null}, "y": {"field": "energy", "type": "quantitative", "axis": null}, "text": {"field": "text"}}},
    {"data": {"name": "labels"}, "transform": [{"filter": {"field": "id", "oneOf": ["l4"]}}], "mark": {"type": "text", "angle": 13, "font": "Liberation Sans", "fontSize": 19, "align": "center", "baseline": "middle", "color": "black"}, "encoding": {"x": {"field": "beta", "type": "quantitative", "axis": null}, "y": {"field": "energy", "type": "quantitative", "axis": null}, "text": {"field": "text"}}},
    {"data": {"name": "labels"}, "transform": [{"filter": {"field": "id", "oneOf": ["l22"]}}], "mark": {"type": "text", "angle": 16, "font": "Liberation Sans", "fontSize": 19, "align": "center", "baseline": "middle", "color": "black"}, "encoding": {"x": {"field": "beta", "type": "quantitative", "axis": null}, "y": {"field": "energy", "type": "quantitative", "axis": null}, "text": {"field": "text"}}},
    {"data": {"name": "labels"}, "transform": [{"filter": {"field": "id", "oneOf": ["l12"]}}], "mark": {"type": "text", "angle": 30, "font": "Liberation Sans", "fontSize": 19, "align": "center", "baseline": "middle", "color": "black"}, "encoding": {"x": {"field": "beta", "type": "quantitative", "axis": null}, "y": {"field": "energy", "type": "quantitative", "axis": null}, "text": {"field": "text"}}},
    {"data": {"name": "labels"}, "transform": [{"filter": {"field": "id", "oneOf": ["l25"]}}], "mark": {"type": "text", "angle": 40, "font": "Liberation Sans", "fontSize": 19, "align": "center", "baseline": "middle", "color": "black"}, "encoding": {"x": {"field": "beta", "type": "quantitative", "axis": null}, "y": {"field": "energy", "type": "quantitative", "axis": null}, "text": {"field": "text"}}},
    {"data": {"name": "labels"}, "transform": [{"filter": {"field": "id", "oneOf": ["l24"]}}], "mark": {"type": "text", "angle": 42, "font": "Liberation Sans", "fontSize": 19, "align": "center", "baseline": "middle", "color": "black"}, "encoding": {"x": {"field": "beta", "type": "quantitative", "axis": null}, "y": {"field": "energy", "type": "quantitative", "axis": null}, "text": {"field": "text"}}},
    {"data": {"name": "labels"}, "transform": [{"filter": {"field": "id", "oneOf": ["l11", "l26"]}}], "mark": {"type": "text", "angle": 55, "font": "Liberation Sans", "fontSize": 19, "align": "center", "baseline": "middle", "color": "black"}, "encoding": {"x": {"field": "beta", "type": "quantitative", "axis": null}, "y": {"field": "energy", "type": "quantitative", "axis": null}, "text": {"field": "text"}}},
    {"data": {"name": "labels"}, "transform": [{"filter": {"field": "id", "oneOf": ["l20"]}}], "mark": {"type": "text", "angle": 62, "font": "Liberation Sans", "fontSize": 19, "align": "center", "baseline": "middle", "color": "black"}, "encoding": {"x": {"field": "beta", "type": "quantitative", "axis": null}, "y": {"field": "energy", "type": "quantitative", "axis": null}, "text": {"field": "text"}}},
    {"data": {"name": "labels"}, "transform": [{"filter": {"field": "id", "oneOf": ["l18"]}}], "mark": {"type": "text", "angle": -5, "font": "Liberation Sans", "fontSize": 19, "align": "center", "baseline": "middle", "color": "black"}, "encoding": {"x": {"field": "beta", "type": "quantitative", "axis": null}, "y": {"field": "energy", "type": "quantitative", "axis": null}, "text": {"field": "text"}}},
    {"data": {"name": "labels"}, "transform": [{"filter": {"field": "id", "oneOf": ["l32"]}}], "mark": {"type": "text", "angle": -8, "font": "Liberation Sans", "fontSize": 19, "align": "center", "baseline": "middle", "color": "black"}, "encoding": {"x": {"field": "beta", "type": "quantitative", "axis": null}, "y": {"field": "energy", "type": "quantitative", "axis": null}, "text": {"field": "text"}}},
    {"data": {"name": "labels"}, "transform": [{"filter": {"field": "id", "oneOf": ["l2"]}}], "mark": {"type": "text", "angle": -20, "font": "Liberation Sans", "fontSize": 19, "align": "center", "baseline": "middle", "color": "black"}, "encoding": {"x": {"field": "beta", "type": "quantitative", "axis": null}, "y": {"field": "energy", "type": "quantitative", "axis": null}, "text": {"field": "text"}}},
    {"data": {"name": "labels"}, "transform": [{"filter": {"field": "id", "oneOf": ["l19"]}}], "mark": {"type": "text", "angle": -22, "font": "Liberation Sans", "fontSize": 19, "align": "center", "baseline": "middle", "color": "black"}, "encoding": {"x": {"field": "beta", "type": "quantitative", "axis": null}, "y": {"field": "energy", "type": "quantitative", "axis": null}, "text": {"field": "text"}}},
    {"data": {"name": "labels"}, "transform": [{"filter": {"field": "id", "oneOf": ["l29"]}}], "mark": {"type": "text", "angle": -25, "font": "Liberation Sans", "fontSize": 19, "align": "center", "baseline": "middle", "color": "black"}, "encoding": {"x": {"field": "beta", "type": "quantitative", "axis": null}, "y": {"field": "energy", "type": "quantitative", "axis": null}, "text": {"field": "text"}}},
    {"data": {"name": "labels"}, "transform": [{"filter": {"field": "id", "oneOf": ["l17"]}}], "mark": {"type": "text", "angle": -33, "font": "Liberation Sans", "fontSize": 19, "align": "center", "baseline": "middle", "color": "black"}, "encoding": {"x": {"field": "beta", "type": "quantitative", "axis": null}, "y": {"field": "energy", "type": "quantitative", "axis": null}, "text": {"field": "text"}}},
    {"data": {"name": "labels"}, "transform": [{"filter": {"field": "id", "oneOf": ["l27"]}}], "mark": {"type": "text", "angle": -38, "font": "Liberation Sans", "fontSize": 19, "align": "center", "baseline": "middle", "color": "black"}, "encoding": {"x": {"field": "beta", "type": "quantitative", "axis": null}, "y": {"field": "energy", "type": "quantitative", "axis": null}, "text": {"field": "text"}}},
    {"data": {"name": "labels"}, "transform": [{"filter": {"field": "id", "oneOf": ["l9", "l30"]}}], "mark": {"type": "text", "angle": -40, "font": "Liberation Sans", "fontSize": 19, "align": "center", "baseline": "middle", "color": "black"}, "encoding": {"x": {"field": "beta", "type": "quantitative", "axis": null}, "y": {"field": "energy", "type": "quantitative", "axis": null}, "text": {"field": "text"}}},
    {"data": {"name": "labels"}, "transform": [{"filter": {"field": "id", "oneOf": ["l28"]}}], "mark": {"type": "text", "angle": -42, "font": "Liberation Sans", "fontSize": 19, "align": "center", "baseline": "middle", "color": "black"}, "encoding": {"x": {"field": "beta", "type": "quantitative", "axis": null}, "y": {"field": "energy", "type": "quantitative", "axis": null}, "text": {"field": "text"}}},
    {"data": {"name": "labels"}, "transform": [{"filter": {"field": "id", "oneOf": ["l10"]}}], "mark": {"type": "text", "angle": -50, "font": "Liberation Sans", "fontSize": 19, "align": "center", "baseline": "middle", "color": "black"}, "encoding": {"x": {"field": "beta", "type": "quantitative", "axis": null}, "y": {"field": "energy", "type": "quantitative", "axis": null}, "text": {"field": "text"}}},
    {"data": {"name": "labels"}, "transform": [{"filter": {"field": "id", "oneOf": ["l31"]}}], "mark": {"type": "text", "angle": -52, "font": "Liberation Sans", "fontSize": 19, "align": "center", "baseline": "middle", "color": "black"}, "encoding": {"x": {"field": "beta", "type": "quantitative", "axis": null}, "y": {"field": "energy", "type": "quantitative", "axis": null}, "text": {"field": "text"}}},
    {"data": {"name": "labels"}, "transform": [{"filter": {"field": "id", "oneOf": ["l16"]}}], "mark": {"type": "text", "angle": -55, "font": "Liberation Sans", "fontSize": 19, "align": "center", "baseline": "middle", "color": "black"}, "encoding": {"x": {"field": "beta", "type": "quantitative", "axis": null}, "y": {"field": "energy", "type": "quantitative", "axis": null}, "text": {"field": "text"}}}
  ]
}
